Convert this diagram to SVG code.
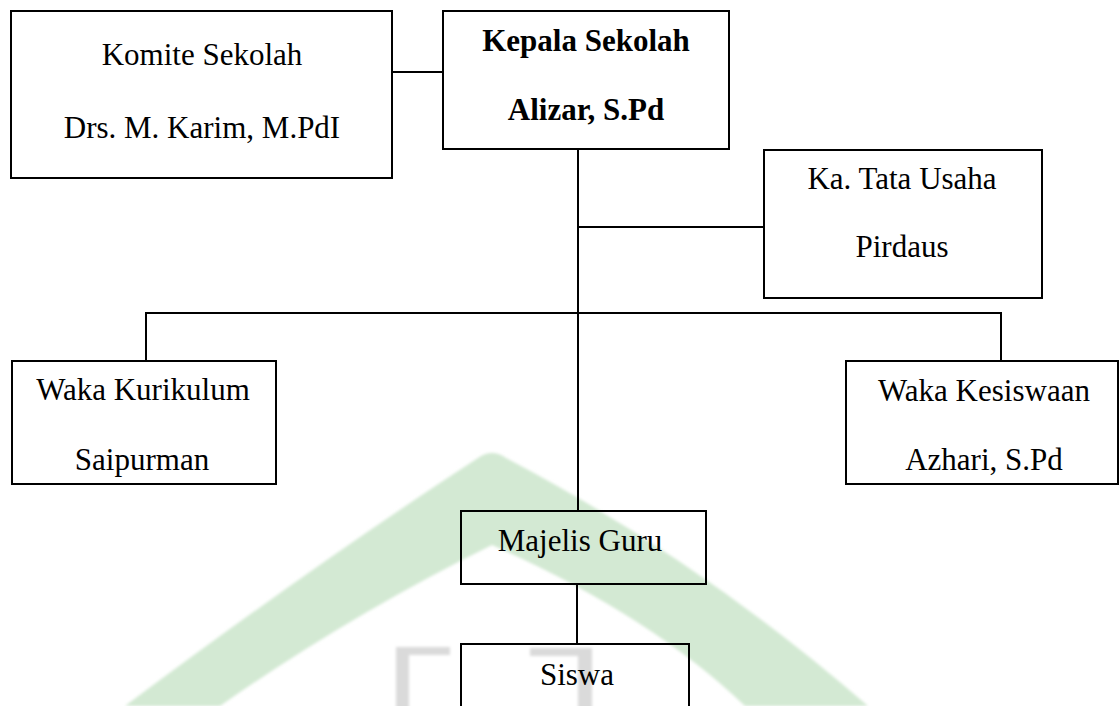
<svg xmlns="http://www.w3.org/2000/svg" width="1120" height="706" viewBox="0 0 1120 706">
  <style>
    .box { fill: none; stroke: #000; stroke-width: 2; }
    .conn { fill: none; stroke: #000; stroke-width: 2; }
    .t { font-family: "Liberation Serif", "Times New Roman", serif; font-size: 31px; fill: #000; text-anchor: middle; }
    .b { font-weight: bold; }
  </style>
  <defs>
    <filter id="soft" x="-5%" y="-5%" width="110%" height="110%">
      <feGaussianBlur stdDeviation="1.8"/>
    </filter>
  </defs>
  <rect x="0" y="0" width="1120" height="706" fill="#fff"/>
  <g id="watermark" filter="url(#soft)">
    <path d="M125,706 Q318,562 478,458 Q492,448 506,458 Q700,560 868,706 L745,706 Q650,615 492,545 Q350,615 220,706 Z" fill="#d3e9d3"/>
    <g fill="#dadada">
      <rect x="396" y="647" width="54" height="8"/>
      <rect x="396" y="647" width="13" height="62"/>
      <rect x="530" y="648" width="62" height="8"/>
      <rect x="578" y="648" width="14" height="62"/>
    </g>
  </g>
  <g id="connectors">
    <line class="conn" x1="393" y1="72" x2="443" y2="72"/>
    <line class="conn" x1="578" y1="149" x2="578" y2="511"/>
    <line class="conn" x1="578" y1="227" x2="764" y2="227"/>
    <line class="conn" x1="146" y1="313" x2="688" y2="313" stroke="#222"/>
    <line class="conn" x1="688" y1="313" x2="1002" y2="313"/>
    <line class="conn" x1="146" y1="312" x2="146" y2="361"/>
    <line class="conn" x1="1001" y1="312" x2="1001" y2="361"/>
    <line class="conn" x1="577" y1="584" x2="577" y2="644"/>
  </g>
  <g id="komite">
    <rect class="box" x="11" y="11" width="381" height="167"/>
    <text class="t" x="202" y="65">Komite Sekolah</text>
    <text class="t" x="202" y="138">Drs. M. Karim, M.PdI</text>
  </g>
  <g id="kepala">
    <rect class="box" x="443" y="11" width="286" height="138"/>
    <text class="t b" x="586" y="51">Kepala Sekolah</text>
    <text class="t b" x="586" y="120">Alizar, S.Pd</text>
  </g>
  <g id="tata-usaha">
    <rect class="box" x="764" y="150" width="278" height="148"/>
    <text class="t" x="902" y="189">Ka. Tata Usaha</text>
    <text class="t" x="902" y="257">Pirdaus</text>
  </g>
  <g id="waka-kurikulum">
    <rect class="box" x="12" y="361" width="264" height="123"/>
    <text class="t" x="143" y="400">Waka Kurikulum</text>
    <text class="t" x="142" y="470">Saipurman</text>
  </g>
  <g id="waka-kesiswaan">
    <rect class="box" x="846" y="361" width="272" height="123"/>
    <text class="t" x="984" y="401">Waka Kesiswaan</text>
    <text class="t" x="984" y="470">Azhari, S.Pd</text>
  </g>
  <g id="majelis-guru">
    <rect class="box" x="461" y="511" width="245" height="73"/>
    <text class="t" x="580" y="551">Majelis Guru</text>
  </g>
  <g id="siswa">
    <rect class="box" x="461" y="644" width="228" height="80"/>
    <text class="t" x="577" y="685">Siswa</text>
  </g>
</svg>
